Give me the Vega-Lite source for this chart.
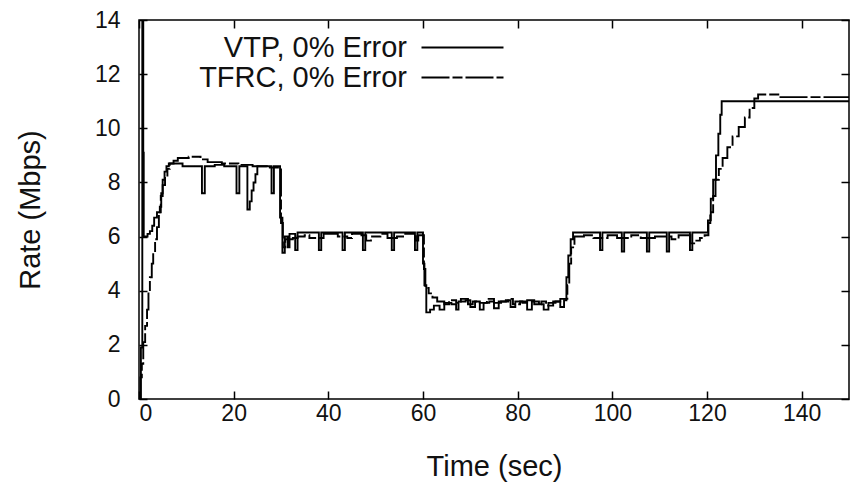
{
  "$schema": "https://vega.github.io/schema/vega-lite/v6.json",
  "width": 710,
  "height": 379,
  "autosize": "none",
  "padding": {"left": 139, "top": 20, "right": 6, "bottom": 92},
  "background": "white",
  "config": {
    "view": {"stroke": "black", "strokeWidth": 1.5},
    "font": "Liberation Sans",
    "axis": {
      "grid": false,
      "domain": false,
      "ticks": true,
      "tickSize": -8,
      "tickColor": "black",
      "tickWidth": 1.5,
      "labelFont": "Liberation Sans",
      "labelFontSize": 23,
      "labelColor": "#111",
      "titleFont": "Liberation Sans",
      "titleFontSize": 29,
      "titleFontWeight": "normal",
      "titleColor": "#111"
    }
  },
  "layer": [
    {
      "data": {"values": [
        {"t": 0, "v": 0}, {"t": 0.4, "v": 1.9}, {"t": 0.7, "v": 14}, {"t": 0.9, "v": 9.1}, {"t": 1.0, "v": 6.0},
        {"t": 1.8, "v": 6.1}, {"t": 2.3, "v": 6.2}, {"t": 2.8, "v": 6.4}, {"t": 3.2, "v": 6.7},
        {"t": 3.8, "v": 6.9}, {"t": 4.4, "v": 7.1}, {"t": 4.7, "v": 7.6}, {"t": 5.0, "v": 8.1},
        {"t": 5.4, "v": 8.4}, {"t": 5.8, "v": 8.6}, {"t": 6.3, "v": 8.7}, {"t": 9.2, "v": 8.6},
        {"t": 13.3, "v": 7.6}, {"t": 13.9, "v": 8.6}, {"t": 16, "v": 8.65}, {"t": 18, "v": 8.6},
        {"t": 20.6, "v": 7.6}, {"t": 21.2, "v": 8.6}, {"t": 22.9, "v": 7.0}, {"t": 23.4, "v": 7.3},
        {"t": 23.8, "v": 7.7}, {"t": 24.2, "v": 8.0}, {"t": 24.6, "v": 8.3}, {"t": 25.0, "v": 8.6},
        {"t": 28.0, "v": 7.6}, {"t": 28.5, "v": 8.6}, {"t": 29.8, "v": 6.7}, {"t": 30.3, "v": 5.4},
        {"t": 30.8, "v": 6.0}, {"t": 31.4, "v": 5.6}, {"t": 31.8, "v": 6.1}, {"t": 33.0, "v": 5.5},
        {"t": 33.5, "v": 6.15}, {"t": 38.0, "v": 5.5}, {"t": 38.5, "v": 6.15}, {"t": 43.0, "v": 5.5},
        {"t": 43.5, "v": 6.15}, {"t": 47.3, "v": 5.5}, {"t": 47.8, "v": 6.15}, {"t": 53.4, "v": 5.5},
        {"t": 53.9, "v": 6.15}, {"t": 58.3, "v": 5.5}, {"t": 58.8, "v": 6.15}, {"t": 60.0, "v": 5.0},
        {"t": 60.3, "v": 4.2}, {"t": 60.7, "v": 3.2}, {"t": 61.5, "v": 3.3}, {"t": 62.3, "v": 3.45},
        {"t": 63.5, "v": 3.3}, {"t": 64.5, "v": 3.55}, {"t": 66, "v": 3.5}, {"t": 67, "v": 3.3},
        {"t": 67.5, "v": 3.6}, {"t": 69, "v": 3.65}, {"t": 70, "v": 3.4}, {"t": 71, "v": 3.6},
        {"t": 72, "v": 3.3}, {"t": 72.8, "v": 3.55}, {"t": 74, "v": 3.6}, {"t": 75, "v": 3.35},
        {"t": 76, "v": 3.6}, {"t": 77.5, "v": 3.65}, {"t": 78.5, "v": 3.4}, {"t": 79.5, "v": 3.6},
        {"t": 81, "v": 3.55}, {"t": 82, "v": 3.3}, {"t": 83, "v": 3.6}, {"t": 84.5, "v": 3.5},
        {"t": 85.5, "v": 3.3}, {"t": 86.5, "v": 3.55}, {"t": 88, "v": 3.6}, {"t": 89, "v": 3.4},
        {"t": 89.8, "v": 3.65}, {"t": 90.3, "v": 4.5}, {"t": 90.7, "v": 5.3}, {"t": 91.2, "v": 5.9},
        {"t": 91.7, "v": 6.15}, {"t": 97.4, "v": 5.5}, {"t": 97.9, "v": 6.15}, {"t": 102, "v": 5.45},
        {"t": 102.5, "v": 6.15}, {"t": 107.3, "v": 5.45}, {"t": 107.8, "v": 6.15}, {"t": 111.5, "v": 5.45},
        {"t": 112, "v": 6.15}, {"t": 116.4, "v": 5.5}, {"t": 116.9, "v": 6.15}, {"t": 120.2, "v": 6.6},
        {"t": 120.8, "v": 7.4}, {"t": 121.3, "v": 8.1}, {"t": 121.9, "v": 9.0}, {"t": 122.4, "v": 9.8},
        {"t": 122.8, "v": 10.5}, {"t": 123.1, "v": 11.0}, {"t": 150, "v": 11.0}
      ]},
      "mark": {"type": "line", "interpolate": "step-after", "color": "black", "strokeWidth": 1.9, "clip": true},
      "encoding": {
        "x": {"field": "t", "type": "quantitative", "scale": {"domain": [0, 150]},
              "axis": {"orient": "bottom", "values": [0, 20, 40, 60, 80, 100, 120, 140], "labelPadding": 11, "title": "Time (sec)", "titlePadding": 27}},
        "y": {"field": "v", "type": "quantitative", "scale": {"domain": [0, 14]},
              "axis": {"orient": "left", "values": [0, 2, 4, 6, 8, 10, 12, 14], "labelPadding": 27, "title": "Rate (Mbps)", "titlePadding": 49}},
        "strokeDash": {"datum": "VTP, 0% Error", "type": "nominal",
              "scale": {"domain": ["VTP, 0% Error", "TFRC, 0% Error"], "range": [[1, 0], [28, 3, 10, 3]]},
              "legend": {"orient": "none", "legendX": 309, "legendY": 13, "title": null, "symbolType": "M-8.2,0H8.2",
                         "symbolSize": 100, "symbolStrokeWidth": 1.8, "symbolStrokeColor": "black", "symbolFillColor": "transparent",
                         "labelFontSize": 29, "labelAlign": "right", "labelOffset": -70, "labelLimit": 500, "labelColor": "#111", "rowPadding": -15}}
      }
    },
    {
      "data": {"values": [
        {"t": 0, "v": 0}, {"t": 0.3, "v": 0.8}, {"t": 0.6, "v": 1.3}, {"t": 0.9, "v": 2.1},
        {"t": 1.3, "v": 2.7}, {"t": 1.7, "v": 3.3}, {"t": 2.0, "v": 3.9}, {"t": 2.3, "v": 4.5},
        {"t": 2.7, "v": 5.0}, {"t": 3.0, "v": 5.4}, {"t": 3.4, "v": 5.9}, {"t": 3.8, "v": 6.35},
        {"t": 4.2, "v": 6.9}, {"t": 4.6, "v": 7.5}, {"t": 5.0, "v": 7.9}, {"t": 5.5, "v": 8.2},
        {"t": 6.0, "v": 8.5}, {"t": 6.5, "v": 8.7}, {"t": 7.3, "v": 8.8}, {"t": 8.2, "v": 8.9},
        {"t": 10.5, "v": 8.95}, {"t": 13.0, "v": 8.85}, {"t": 14.5, "v": 8.75}, {"t": 17.5, "v": 8.7},
        {"t": 21.0, "v": 8.65}, {"t": 24.0, "v": 8.6}, {"t": 27.0, "v": 8.55}, {"t": 30.0, "v": 6.5},
        {"t": 30.4, "v": 5.6}, {"t": 30.9, "v": 5.9}, {"t": 32.5, "v": 5.95}, {"t": 33.5, "v": 6.0},
        {"t": 35, "v": 6.05}, {"t": 36, "v": 5.95}, {"t": 39, "v": 6.1}, {"t": 42, "v": 6.0},
        {"t": 44, "v": 5.95}, {"t": 45, "v": 6.1}, {"t": 47, "v": 6.05}, {"t": 48, "v": 5.85},
        {"t": 49, "v": 6.0}, {"t": 51, "v": 6.1}, {"t": 52.5, "v": 5.95}, {"t": 54.5, "v": 6.0},
        {"t": 56, "v": 6.1}, {"t": 58.5, "v": 5.85}, {"t": 59, "v": 6.05}, {"t": 60.2, "v": 4.8},
        {"t": 60.5, "v": 4.1}, {"t": 61.2, "v": 3.9}, {"t": 62, "v": 3.75}, {"t": 63, "v": 3.6},
        {"t": 64.5, "v": 3.5}, {"t": 65.5, "v": 3.65}, {"t": 67, "v": 3.55}, {"t": 68, "v": 3.7},
        {"t": 69.5, "v": 3.5}, {"t": 70.5, "v": 3.6}, {"t": 72, "v": 3.55}, {"t": 73.5, "v": 3.7},
        {"t": 75, "v": 3.55}, {"t": 76.5, "v": 3.6}, {"t": 78, "v": 3.7}, {"t": 79, "v": 3.5},
        {"t": 80.5, "v": 3.6}, {"t": 82, "v": 3.65}, {"t": 83.5, "v": 3.5}, {"t": 85, "v": 3.6},
        {"t": 86, "v": 3.45}, {"t": 87.5, "v": 3.6}, {"t": 89, "v": 3.7}, {"t": 90.5, "v": 4.2},
        {"t": 90.9, "v": 5.0}, {"t": 91.3, "v": 5.6}, {"t": 92, "v": 6.0}, {"t": 94, "v": 6.05},
        {"t": 96, "v": 5.95}, {"t": 99, "v": 6.05}, {"t": 101, "v": 5.95}, {"t": 104, "v": 6.05},
        {"t": 106, "v": 5.95}, {"t": 109, "v": 6.0}, {"t": 112.5, "v": 5.9}, {"t": 114, "v": 6.05},
        {"t": 116.5, "v": 5.75}, {"t": 117.5, "v": 5.85}, {"t": 118.5, "v": 5.95}, {"t": 119.5, "v": 6.05},
        {"t": 120.3, "v": 6.5}, {"t": 120.7, "v": 6.9}, {"t": 121.3, "v": 7.5}, {"t": 121.8, "v": 8.1},
        {"t": 122.5, "v": 8.5}, {"t": 123.3, "v": 8.9}, {"t": 124.3, "v": 9.3}, {"t": 125.4, "v": 9.7},
        {"t": 126.7, "v": 10.05}, {"t": 128, "v": 10.4}, {"t": 129, "v": 10.75}, {"t": 130, "v": 11.1},
        {"t": 130.8, "v": 11.25}, {"t": 135.3, "v": 11.15}, {"t": 150, "v": 11.15}
      ]},
      "mark": {"type": "line", "interpolate": "step-after", "color": "black", "strokeWidth": 1.9, "clip": true},
      "encoding": {
        "x": {"field": "t", "type": "quantitative", "scale": {"domain": [0, 150]},
              "axis": {"orient": "top", "values": [0, 20, 40, 60, 80, 100, 120, 140], "labels": false, "title": null}},
        "y": {"field": "v", "type": "quantitative", "scale": {"domain": [0, 14]},
              "axis": {"orient": "right", "values": [0, 2, 4, 6, 8, 10, 12, 14], "labels": false, "title": null}},
        "strokeDash": {"datum": "TFRC, 0% Error", "type": "nominal"}
      }
    }
  ],
  "resolve": {"axis": {"x": "independent", "y": "independent"}}
}
